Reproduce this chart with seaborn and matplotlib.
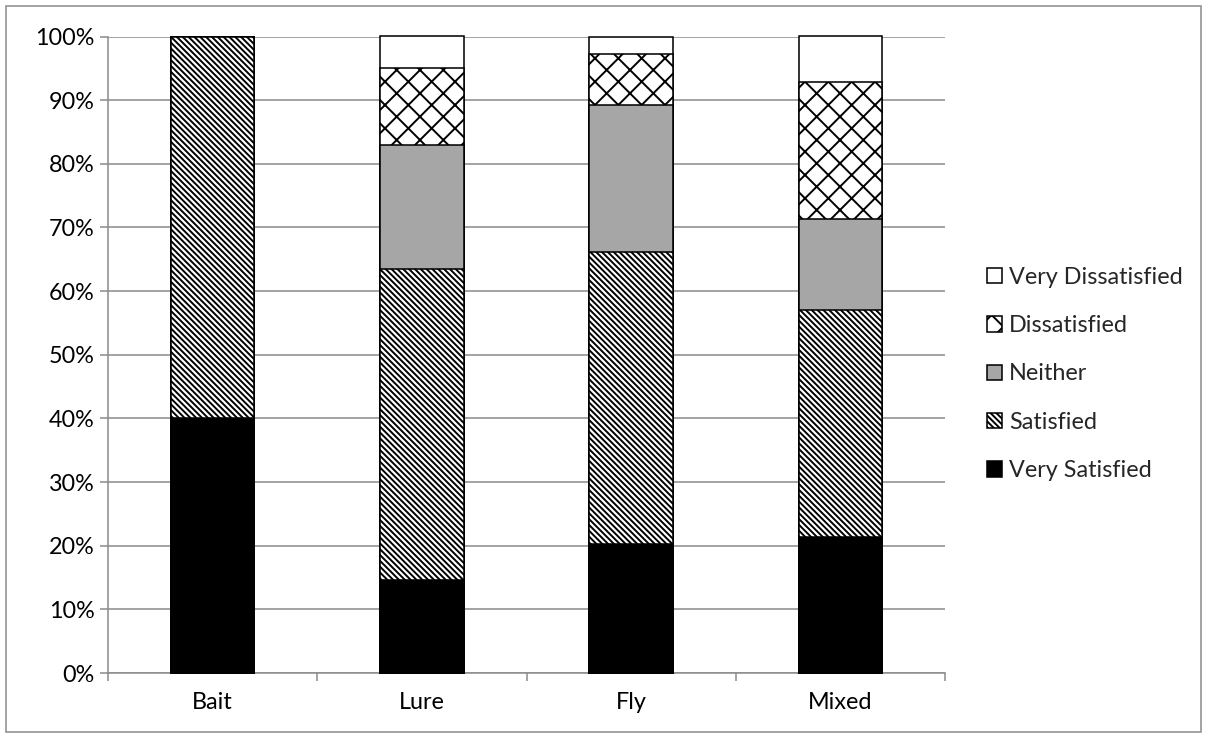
import matplotlib
matplotlib.use("Agg")
import matplotlib.pyplot as plt
from matplotlib.patches import Patch, Rectangle
from matplotlib.ticker import FuncFormatter, FixedLocator
import numpy as np
import pandas as pd
import seaborn as sns

categories = ["Bait", "Lure", "Fly", "Mixed"]
very_satisfied = [40.0, 14.6, 20.3, 21.4]
satisfied = [60.0, 48.8, 45.9, 35.7]
neither = [0.0, 19.5, 23.0, 14.3]
dissatisfied = [0.0, 12.2, 8.1, 21.4]
very_dissatisfied = [0.0, 4.9, 2.7, 7.2]
series_names = ["Very Satisfied", "Satisfied", "Neither", "Dissatisfied", "Very Dissatisfied"]
y_ticks = [0, 10, 20, 30, 40, 50, 60, 70, 80, 90, 100]

sns.set_style("white")
plt.rcParams["font.family"] = ["Lato", "DejaVu Sans"]
plt.rcParams["hatch.linewidth"] = 1.0

DPI = 140
W, H = 1207, 738
fig = plt.figure(figsize=(W / DPI, H / DPI), dpi=DPI)
ax = fig.add_axes([108 / W, 1 - 673 / H, (945 - 108) / W, (673 - 36.5) / H])

styles = {
    "Very Satisfied": dict(color="black", hatch=None),
    "Satisfied": dict(color="white", hatch="\\" * 8),
    "Neither": dict(color="#a6a6a6", hatch=None),
    "Dissatisfied": dict(color="white", hatch="xx"),
    "Very Dissatisfied": dict(color="white", hatch=None),
}

values = np.array([very_satisfied, satisfied, neither, dissatisfied, very_dissatisfied])
cum = np.cumsum(values, axis=0)

# draw from top layer down so lower segments overlay
for i in range(len(series_names) - 1, -1, -1):
    name = series_names[i]
    df = pd.DataFrame({"cat": categories, "val": cum[i]})
    st = styles[name]
    kw = {}
    if st["hatch"]:
        kw["hatch"] = st["hatch"]
    sns.barplot(data=df, x="cat", y="val", order=categories, color=st["color"],
                saturation=1, width=0.4, edgecolor="black", linewidth=0.8,
                ax=ax, zorder=3, **kw)

for p in ax.patches:
    p.set_clip_on(False)

grid_c = "#8c8c8c"
FS = 12
ax.set_ylim(0, 100)
ax.set_xlim(-0.5, 3.5)
ax.set_yticks(y_ticks)
ax.yaxis.set_major_formatter(FuncFormatter(lambda v, p: f"{int(v)}%"))
ax.yaxis.grid(True, color=grid_c, linewidth=0.8, zorder=0)
ax.set_axisbelow(True)
ax.set_xlabel("")
ax.set_ylabel("")
for s in ["top", "right"]:
    ax.spines[s].set_visible(False)
for s in ["left", "bottom"]:
    ax.spines[s].set_color(grid_c)
    ax.spines[s].set_linewidth(0.8)
ax.tick_params(axis="y", which="major", length=4, width=0.8, color=grid_c,
               labelsize=FS, labelcolor="black", pad=3, left=True)
ax.tick_params(axis="x", which="major", length=0, labelsize=FS, labelcolor="black", pad=10)
ax.xaxis.set_minor_locator(FixedLocator([-0.5, 0.5, 1.5, 2.5, 3.5]))
ax.tick_params(axis="x", which="minor", length=4, width=0.8, color=grid_c, bottom=True)

handles = []
for name in series_names[::-1]:
    st = styles[name]
    handles.append(Patch(facecolor=st["color"], edgecolor="black", linewidth=0.8,
                         hatch=st["hatch"], label=name))
fig.legend(handles=handles, loc="center left", bbox_to_anchor=(987 / W, 1 - 374 / H),
           frameon=False, fontsize=FS, handlelength=0.65, handleheight=0.65,
           handletextpad=0.3, labelspacing=1.17, borderpad=0, borderaxespad=0)

fig.patches.append(Rectangle((6 / W, 6 / H), 1 - 12 / W, 1 - 12 / H,
                             transform=fig.transFigure, fill=False,
                             edgecolor="#8c8c8c", linewidth=0.8))

fig.savefig("out.png", dpi=DPI)
